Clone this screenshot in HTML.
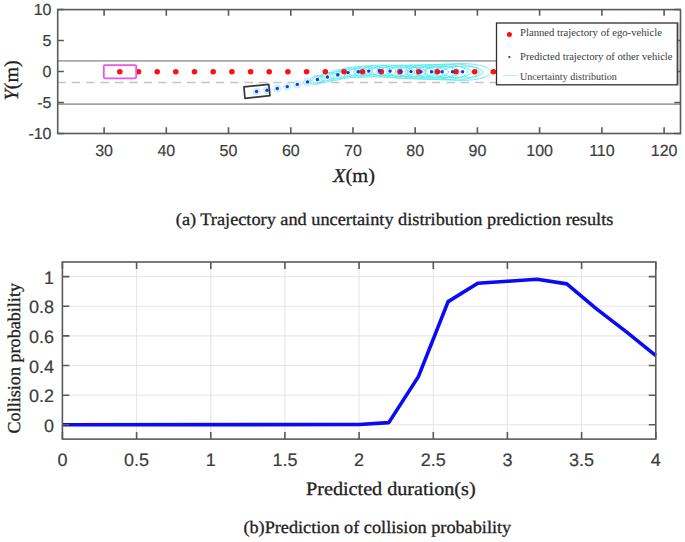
<!DOCTYPE html>
<html><head><meta charset="utf-8"><style>
html,body{margin:0;padding:0;background:#fff;width:685px;height:542px;overflow:hidden}
svg{display:block}
.t{stroke:#444;stroke-width:0.2px;fill:#3c3c3c}
.s{stroke:#222;stroke-width:0.3px;fill:#222}
text{text-rendering:geometricPrecision}
</style></head><body>
<svg width="685" height="542" viewBox="0 0 685 542">
<rect width="685" height="542" fill="#fff"/>
<line x1="57.7" y1="60.9" x2="680.5" y2="60.9" stroke="#a8a8a8" stroke-width="1.8"/>
<line x1="57.7" y1="104.2" x2="680.5" y2="104.2" stroke="#a0a0a0" stroke-width="1.8"/>
<line x1="57.2" y1="82.5" x2="680.5" y2="82.5" stroke="#c4c4c4" stroke-width="1.3" stroke-dasharray="8.5 5.91"/>
<g><ellipse cx="256.5" cy="91.5" rx="3.3" ry="3.3" fill="#d2f9fb" stroke="#a4f2f5" stroke-width="0.8"/><ellipse cx="267.0" cy="90.2" rx="3.4" ry="3.4" fill="#d2f9fb" stroke="#a4f2f5" stroke-width="0.8"/><ellipse cx="277.3" cy="88.5" rx="3.5" ry="3.5" fill="#d2f9fb" stroke="#a4f2f5" stroke-width="0.8"/><ellipse cx="287.3" cy="86.6" rx="3.6" ry="3.6" fill="#d2f9fb" stroke="#a4f2f5" stroke-width="0.8"/><ellipse cx="297.3" cy="84.4" rx="3.7" ry="3.7" fill="#d2f9fb" stroke="#a4f2f5" stroke-width="0.8"/><ellipse cx="307.5" cy="81.9" rx="3.8" ry="3.8" fill="#d2f9fb" stroke="#a4f2f5" stroke-width="0.8"/><ellipse cx="317.4" cy="79.8" rx="8.0" ry="4.3" transform="rotate(-13.8 317.4 79.5)" fill="none" stroke="#5ceaf0" stroke-width="0.9"/><ellipse cx="317.4" cy="79.8" rx="5.8" ry="3.1" transform="rotate(-13.8 317.4 79.5)" fill="none" stroke="#5ceaf0" stroke-width="0.9"/><ellipse cx="327.4" cy="77.3" rx="9.4" ry="4.6" transform="rotate(-13.2 327.4 77.0)" fill="none" stroke="#5ceaf0" stroke-width="0.9"/><ellipse cx="327.4" cy="77.3" rx="6.8" ry="3.3" transform="rotate(-13.2 327.4 77.0)" fill="none" stroke="#5ceaf0" stroke-width="0.9"/><ellipse cx="337.8" cy="75.0" rx="10.9" ry="4.9" transform="rotate(-12.1 337.8 74.7)" fill="none" stroke="#5ceaf0" stroke-width="0.9"/><ellipse cx="337.8" cy="75.0" rx="7.8" ry="3.5" transform="rotate(-12.1 337.8 74.7)" fill="none" stroke="#5ceaf0" stroke-width="0.9"/><ellipse cx="348.0" cy="72.9" rx="12.3" ry="5.2" transform="rotate(-8.3 348.0 72.6)" fill="none" stroke="#5ceaf0" stroke-width="0.9"/><ellipse cx="348.0" cy="72.9" rx="8.9" ry="3.7" transform="rotate(-8.3 348.0 72.6)" fill="none" stroke="#5ceaf0" stroke-width="0.9"/><ellipse cx="358.3" cy="72.0" rx="13.8" ry="5.5" transform="rotate(-4.1 358.3 71.7)" fill="none" stroke="#5ceaf0" stroke-width="0.9"/><ellipse cx="358.3" cy="72.0" rx="9.9" ry="3.9" transform="rotate(-4.1 358.3 71.7)" fill="none" stroke="#5ceaf0" stroke-width="0.9"/><ellipse cx="368.8" cy="71.4" rx="15.2" ry="5.8" transform="rotate(-2.5 368.8 71.1)" fill="none" stroke="#5ceaf0" stroke-width="0.9"/><ellipse cx="368.8" cy="71.4" rx="11.0" ry="4.1" transform="rotate(-2.5 368.8 71.1)" fill="none" stroke="#5ceaf0" stroke-width="0.9"/><ellipse cx="379.3" cy="71.1" rx="16.7" ry="6.0" transform="rotate(0.0 379.3 70.8)" fill="none" stroke="#5ceaf0" stroke-width="0.9"/><ellipse cx="379.3" cy="71.1" rx="12.0" ry="4.3" transform="rotate(0.0 379.3 70.8)" fill="none" stroke="#5ceaf0" stroke-width="0.9"/><ellipse cx="390.0" cy="71.4" rx="18.1" ry="6.3" transform="rotate(1.6 390.0 71.1)" fill="none" stroke="#5ceaf0" stroke-width="0.9"/><ellipse cx="390.0" cy="71.4" rx="13.1" ry="4.6" transform="rotate(1.6 390.0 71.1)" fill="none" stroke="#5ceaf0" stroke-width="0.9"/><ellipse cx="400.5" cy="71.7" rx="19.6" ry="6.6" transform="rotate(1.4 400.5 71.4)" fill="none" stroke="#5ceaf0" stroke-width="0.9"/><ellipse cx="400.5" cy="71.7" rx="14.1" ry="4.8" transform="rotate(1.4 400.5 71.4)" fill="none" stroke="#5ceaf0" stroke-width="0.9"/><ellipse cx="411.0" cy="71.9" rx="21.0" ry="6.9" transform="rotate(0.8 411.0 71.6)" fill="none" stroke="#5ceaf0" stroke-width="0.9"/><ellipse cx="411.0" cy="71.9" rx="15.2" ry="5.0" transform="rotate(0.8 411.0 71.6)" fill="none" stroke="#5ceaf0" stroke-width="0.9"/><ellipse cx="421.0" cy="72.0" rx="22.5" ry="7.2" transform="rotate(0.3 421.0 71.7)" fill="none" stroke="#5ceaf0" stroke-width="0.9"/><ellipse cx="421.0" cy="72.0" rx="16.2" ry="5.2" transform="rotate(0.3 421.0 71.7)" fill="none" stroke="#5ceaf0" stroke-width="0.9"/><ellipse cx="431.5" cy="72.0" rx="23.9" ry="7.5" transform="rotate(0.0 431.5 71.7)" fill="none" stroke="#5ceaf0" stroke-width="0.9"/><ellipse cx="431.5" cy="72.0" rx="17.2" ry="5.4" transform="rotate(0.0 431.5 71.7)" fill="none" stroke="#5ceaf0" stroke-width="0.9"/><ellipse cx="442.0" cy="72.0" rx="25.4" ry="7.8" transform="rotate(0.0 442.0 71.7)" fill="none" stroke="#5ceaf0" stroke-width="0.9"/><ellipse cx="442.0" cy="72.0" rx="18.3" ry="5.6" transform="rotate(0.0 442.0 71.7)" fill="none" stroke="#5ceaf0" stroke-width="0.9"/><ellipse cx="452.5" cy="72.0" rx="26.8" ry="8.1" transform="rotate(0.0 452.5 71.7)" fill="none" stroke="#5ceaf0" stroke-width="0.9"/><ellipse cx="452.5" cy="72.0" rx="19.3" ry="5.8" transform="rotate(0.0 452.5 71.7)" fill="none" stroke="#5ceaf0" stroke-width="0.9"/><ellipse cx="462.6" cy="72.0" rx="28.3" ry="8.4" transform="rotate(0.0 462.6 71.7)" fill="none" stroke="#5ceaf0" stroke-width="0.9"/><ellipse cx="462.6" cy="72.0" rx="20.4" ry="6.0" transform="rotate(0.0 462.6 71.7)" fill="none" stroke="#5ceaf0" stroke-width="0.9"/></g>
<circle cx="119.8" cy="71.7" r="2.8" fill="#ff1010"/>
<circle cx="138.5" cy="71.7" r="2.8" fill="#ff1010"/>
<circle cx="157.2" cy="71.7" r="2.8" fill="#ff1010"/>
<circle cx="175.8" cy="71.7" r="2.8" fill="#ff1010"/>
<circle cx="194.5" cy="71.7" r="2.8" fill="#ff1010"/>
<circle cx="213.2" cy="71.7" r="2.8" fill="#ff1010"/>
<circle cx="231.9" cy="71.7" r="2.8" fill="#ff1010"/>
<circle cx="250.6" cy="71.7" r="2.8" fill="#ff1010"/>
<circle cx="269.2" cy="71.7" r="2.8" fill="#ff1010"/>
<circle cx="287.9" cy="71.7" r="2.8" fill="#ff1010"/>
<circle cx="306.6" cy="71.7" r="2.8" fill="#ff1010"/>
<circle cx="325.3" cy="71.7" r="2.8" fill="#ff1010"/>
<circle cx="344.0" cy="71.7" r="2.8" fill="#ff1010"/>
<circle cx="362.6" cy="71.7" r="2.8" fill="#ff1010"/>
<circle cx="381.3" cy="71.7" r="2.8" fill="#ff1010"/>
<circle cx="400.0" cy="71.7" r="2.8" fill="#ff1010"/>
<circle cx="418.7" cy="71.7" r="2.8" fill="#ff1010"/>
<circle cx="437.4" cy="71.7" r="2.8" fill="#ff1010"/>
<circle cx="456.0" cy="71.7" r="2.8" fill="#ff1010"/>
<circle cx="474.7" cy="71.7" r="2.8" fill="#ff1010"/>
<circle cx="493.4" cy="71.7" r="2.8" fill="#ff1010"/>
<circle cx="256.5" cy="91.5" r="1.7" fill="#2a2af2"/>
<circle cx="267.0" cy="90.2" r="1.7" fill="#2a2af2"/>
<circle cx="277.3" cy="88.5" r="1.7" fill="#2a2af2"/>
<circle cx="287.3" cy="86.6" r="1.7" fill="#2a2af2"/>
<circle cx="297.3" cy="84.4" r="1.7" fill="#2a2af2"/>
<circle cx="307.5" cy="81.9" r="1.7" fill="#2a2af2"/>
<circle cx="317.4" cy="79.5" r="1.7" fill="#2a2af2"/>
<circle cx="327.4" cy="77.0" r="1.7" fill="#2a2af2"/>
<circle cx="337.8" cy="74.7" r="1.7" fill="#2a2af2"/>
<circle cx="348.0" cy="72.6" r="1.7" fill="#2a2af2"/>
<circle cx="358.3" cy="71.7" r="1.7" fill="#2a2af2"/>
<circle cx="368.8" cy="71.1" r="1.7" fill="#2a2af2"/>
<circle cx="379.3" cy="70.8" r="1.7" fill="#2a2af2"/>
<circle cx="390.0" cy="71.1" r="1.7" fill="#2a2af2"/>
<circle cx="400.5" cy="71.4" r="1.7" fill="#2a2af2"/>
<circle cx="411.0" cy="71.6" r="1.7" fill="#2a2af2"/>
<circle cx="421.0" cy="71.7" r="1.7" fill="#2a2af2"/>
<circle cx="431.5" cy="71.7" r="1.7" fill="#2a2af2"/>
<circle cx="442.0" cy="71.7" r="1.7" fill="#2a2af2"/>
<circle cx="452.5" cy="71.7" r="1.7" fill="#2a2af2"/>
<circle cx="462.6" cy="71.7" r="1.7" fill="#2a2af2"/>
<rect x="103.8" y="65.1" width="32.4" height="13.2" rx="1.2" fill="none" stroke="#f050f0" stroke-width="1.8"/>
<path d="M243.9,86.9 L268.8,84.3 L270,95.7 L245,98.3 Z" fill="none" stroke="#383838" stroke-width="1.7" stroke-linejoin="round"/>
<rect x="57.7" y="9.6" width="622.8" height="123.9" fill="none" stroke="#5a5a5a" stroke-width="1.6"/>
<path d="M104.1,133.5v-6.2M104.1,9.6v6.2M166.3,133.5v-6.2M166.3,9.6v6.2M228.5,133.5v-6.2M228.5,9.6v6.2M290.8,133.5v-6.2M290.8,9.6v6.2M353.0,133.5v-6.2M353.0,9.6v6.2M415.2,133.5v-6.2M415.2,9.6v6.2M477.4,133.5v-6.2M477.4,9.6v6.2M539.6,133.5v-6.2M539.6,9.6v6.2M601.9,133.5v-6.2M601.9,9.6v6.2M664.1,133.5v-6.2M664.1,9.6v6.2M57.7,133.5h6.2M680.5,133.5h-6.2M57.7,102.5h6.2M680.5,102.5h-6.2M57.7,71.5h6.2M680.5,71.5h-6.2M57.7,40.5h6.2M680.5,40.5h-6.2M57.7,9.5h6.2M680.5,9.5h-6.2" stroke="#5a5a5a" stroke-width="1.6" fill="none"/>
<rect x="496.5" y="23" width="180.8" height="61.8" fill="#fff" stroke="#303030" stroke-width="1.3"/>
<rect x="677.9" y="22.4" width="2" height="63" fill="#b4b4b4"/>
<path d="M680.5,40.5h-3M680.5,71.5h-3" stroke="#555" stroke-width="1.5"/>
<circle cx="509.4" cy="34.4" r="2.5" fill="#ff1010"/>
<circle cx="509.4" cy="57.1" r="1.1" fill="#2020f0"/>
<line x1="502.8" y1="75.6" x2="518.5" y2="75.6" stroke="#a8eef2" stroke-width="1"/>
<text x="520" y="36.3" font-family="Liberation Serif, serif" font-size="10.7" fill="#3a3a3a" textLength="142" lengthAdjust="spacingAndGlyphs">Planned trajectory of ego-vehicle</text>
<text x="520" y="60" font-family="Liberation Serif, serif" font-size="10.7" fill="#3a3a3a" textLength="152.5" lengthAdjust="spacingAndGlyphs">Predicted trajectory of other vehicle</text>
<text x="520" y="79.5" font-family="Liberation Serif, serif" font-size="10.3" fill="#3a3a3a" textLength="96.8" lengthAdjust="spacingAndGlyphs">Uncertainty distribution</text>
<text x="104.1" y="156.1" font-family="Liberation Sans, sans-serif" font-size="16" class="t" fill="#3a3a3a" text-anchor="middle">30</text>
<text x="166.3" y="156.1" font-family="Liberation Sans, sans-serif" font-size="16" class="t" fill="#3a3a3a" text-anchor="middle">40</text>
<text x="228.5" y="156.1" font-family="Liberation Sans, sans-serif" font-size="16" class="t" fill="#3a3a3a" text-anchor="middle">50</text>
<text x="290.8" y="156.1" font-family="Liberation Sans, sans-serif" font-size="16" class="t" fill="#3a3a3a" text-anchor="middle">60</text>
<text x="353.0" y="156.1" font-family="Liberation Sans, sans-serif" font-size="16" class="t" fill="#3a3a3a" text-anchor="middle">70</text>
<text x="415.2" y="156.1" font-family="Liberation Sans, sans-serif" font-size="16" class="t" fill="#3a3a3a" text-anchor="middle">80</text>
<text x="477.4" y="156.1" font-family="Liberation Sans, sans-serif" font-size="16" class="t" fill="#3a3a3a" text-anchor="middle">90</text>
<text x="539.6" y="156.1" font-family="Liberation Sans, sans-serif" font-size="16" class="t" fill="#3a3a3a" text-anchor="middle">100</text>
<text x="601.9" y="156.1" font-family="Liberation Sans, sans-serif" font-size="16" class="t" fill="#3a3a3a" text-anchor="middle">110</text>
<text x="664.1" y="156.1" font-family="Liberation Sans, sans-serif" font-size="16" class="t" fill="#3a3a3a" text-anchor="middle">120</text>
<text x="51.5" y="139.3" font-family="Liberation Sans, sans-serif" font-size="16" class="t" fill="#3a3a3a" text-anchor="end">-10</text>
<text x="51.5" y="108.3" font-family="Liberation Sans, sans-serif" font-size="16" class="t" fill="#3a3a3a" text-anchor="end">-5</text>
<text x="51.5" y="77.3" font-family="Liberation Sans, sans-serif" font-size="16" class="t" fill="#3a3a3a" text-anchor="end">0</text>
<text x="51.5" y="46.3" font-family="Liberation Sans, sans-serif" font-size="16" class="t" fill="#3a3a3a" text-anchor="end">5</text>
<text x="51.5" y="15.3" font-family="Liberation Sans, sans-serif" font-size="16" class="t" fill="#3a3a3a" text-anchor="end">10</text>
<text x="333" y="182.3" font-family="Liberation Serif, serif" class="s" font-size="19.6" textLength="42" lengthAdjust="spacingAndGlyphs" fill="#3a3a3a"><tspan font-style="italic">X</tspan>(m)</text>
<text transform="translate(17.7,100.4) rotate(-90)" font-family="Liberation Serif, serif" class="s" font-size="20" fill="#3a3a3a"><tspan font-style="italic">Y</tspan>(m)</text>
<text x="175.8" y="225" font-family="Liberation Serif, serif" class="s" font-size="17.5" fill="#3a3a3a" textLength="437.6" lengthAdjust="spacingAndGlyphs">(a) Trajectory and uncertainty distribution prediction results</text>
<path d="M136.6,262.0V439.1M210.8,262.0V439.1M284.9,262.0V439.1M359.1,262.0V439.1M433.3,262.0V439.1M507.4,262.0V439.1M581.6,262.0V439.1M62.4,424.8H655.8M62.4,395.2H655.8M62.4,365.5H655.8M62.4,335.9H655.8M62.4,306.2H655.8M62.4,276.6H655.8" stroke="#e4e4e4" stroke-width="1" fill="none"/>
<path d="M62.4,424.8 L359.1,424.5 L388.8,422.6 L418.4,376.6 L448.1,301.6 L477.8,283.3 L507.4,281.3 L537.1,279.3 L566.8,283.9 L596.5,308.8 L626.1,331.7 L655.8,355.7" stroke="#0a0af5" stroke-width="3.6" fill="none" stroke-linejoin="round"/>
<rect x="62.4" y="262.0" width="593.4" height="177.10000000000002" fill="none" stroke="#5a5a5a" stroke-width="1.6"/>
<path d="M62.4,439.1v-7M62.4,262.0v7M136.6,439.1v-7M136.6,262.0v7M210.8,439.1v-7M210.8,262.0v7M284.9,439.1v-7M284.9,262.0v7M359.1,439.1v-7M359.1,262.0v7M433.3,439.1v-7M433.3,262.0v7M507.4,439.1v-7M507.4,262.0v7M581.6,439.1v-7M581.6,262.0v7M655.8,439.1v-7M655.8,262.0v7M62.4,424.8h7M655.8,424.8h-7M62.4,395.2h7M655.8,395.2h-7M62.4,365.5h7M655.8,365.5h-7M62.4,335.9h7M655.8,335.9h-7M62.4,306.2h7M655.8,306.2h-7M62.4,276.6h7M655.8,276.6h-7" stroke="#5a5a5a" stroke-width="1.6" fill="none"/>
<text x="62.4" y="465.8" font-family="Liberation Sans, sans-serif" font-size="18" class="t" fill="#3a3a3a" text-anchor="middle">0</text>
<text x="136.6" y="465.8" font-family="Liberation Sans, sans-serif" font-size="18" class="t" fill="#3a3a3a" text-anchor="middle">0.5</text>
<text x="210.8" y="465.8" font-family="Liberation Sans, sans-serif" font-size="18" class="t" fill="#3a3a3a" text-anchor="middle">1</text>
<text x="284.9" y="465.8" font-family="Liberation Sans, sans-serif" font-size="18" class="t" fill="#3a3a3a" text-anchor="middle">1.5</text>
<text x="359.1" y="465.8" font-family="Liberation Sans, sans-serif" font-size="18" class="t" fill="#3a3a3a" text-anchor="middle">2</text>
<text x="433.3" y="465.8" font-family="Liberation Sans, sans-serif" font-size="18" class="t" fill="#3a3a3a" text-anchor="middle">2.5</text>
<text x="507.4" y="465.8" font-family="Liberation Sans, sans-serif" font-size="18" class="t" fill="#3a3a3a" text-anchor="middle">3</text>
<text x="581.6" y="465.8" font-family="Liberation Sans, sans-serif" font-size="18" class="t" fill="#3a3a3a" text-anchor="middle">3.5</text>
<text x="655.8" y="465.8" font-family="Liberation Sans, sans-serif" font-size="18" class="t" fill="#3a3a3a" text-anchor="middle">4</text>
<text x="54" y="431.8" font-family="Liberation Sans, sans-serif" font-size="18" class="t" fill="#3a3a3a" text-anchor="end">0</text>
<text x="54" y="402.2" font-family="Liberation Sans, sans-serif" font-size="18" class="t" fill="#3a3a3a" text-anchor="end">0.2</text>
<text x="54" y="372.5" font-family="Liberation Sans, sans-serif" font-size="18" class="t" fill="#3a3a3a" text-anchor="end">0.4</text>
<text x="54" y="342.9" font-family="Liberation Sans, sans-serif" font-size="18" class="t" fill="#3a3a3a" text-anchor="end">0.6</text>
<text x="54" y="313.2" font-family="Liberation Sans, sans-serif" font-size="18" class="t" fill="#3a3a3a" text-anchor="end">0.8</text>
<text x="54" y="283.6" font-family="Liberation Sans, sans-serif" font-size="18" class="t" fill="#3a3a3a" text-anchor="end">1</text>
<text x="306.1" y="494.8" font-family="Liberation Serif, serif" class="s" font-size="19" fill="#3a3a3a" textLength="169.5" lengthAdjust="spacingAndGlyphs">Predicted duration(s)</text>
<text transform="translate(19.9,433.5) rotate(-90)" font-family="Liberation Serif, serif" class="s" font-size="18" fill="#3a3a3a" textLength="150.5" lengthAdjust="spacingAndGlyphs">Collision probability</text>
<text x="243.4" y="532.6" font-family="Liberation Serif, serif" class="s" font-size="17.5" fill="#3a3a3a" textLength="267.8" lengthAdjust="spacingAndGlyphs">(b)Prediction of collision probability</text>
</svg>
</body></html>
